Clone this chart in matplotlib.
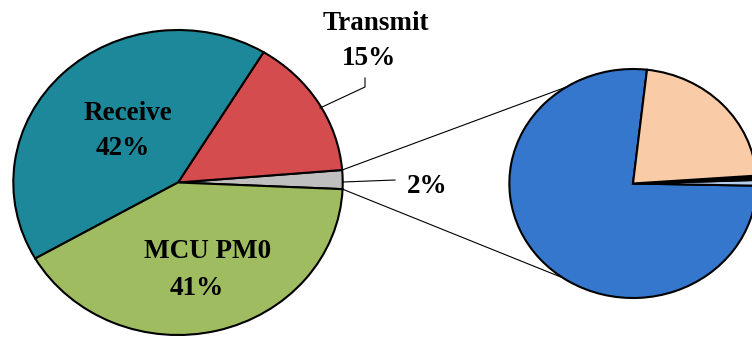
import numpy as np
import matplotlib.pyplot as plt

# main breakdown (percent of total)
main_labels = ["Other", "Transmit", "Receive", "MCU PM0"]
main_values = [2, 15, 42, 41]
main_colors = ["#bfbfbf", "#d44c4d", "#1c8899", "#a0bc60"]

# breakdown of the small "Other" slice
sub_values = [76.5, 0.8, 0.6, 22.1]
sub_colors = ["#3477cc", "#b6cdeb", "#000000", "#f9cba7"]

W, H = 752, 338
sx = 1.08  # horizontal stretch of the whole drawing


def px(x, y):
    return x / sx, H - y


fig = plt.figure(figsize=(W / 100, H / 100), dpi=100)
ax = fig.add_axes([0, 0, 1, 1])

wprops = dict(edgecolor="black", linewidth=1.5)
c1, r1 = px(178, 182.5), 152.5
c2, r2 = px(633, 183.5), 114.5

w1, _ = ax.pie(main_values, colors=main_colors, startangle=-2.5,
               counterclock=True, center=c1, radius=r1, frame=True,
               wedgeprops=wprops)
w2, _ = ax.pie(sub_values, colors=sub_colors, startangle=83.5,
               counterclock=True, center=c2, radius=r2, frame=True,
               wedgeprops=wprops)


def on_circle(c, r, ang):
    a = np.deg2rad(ang)
    return c[0] + r * np.cos(a), c[1] + r * np.sin(a)


# lines joining the small slice to the second pie
g = w1[0]
for a_left, a_right in [(g.theta2, 122.5), (g.theta1, 235.6)]:
    p, q = on_circle(c1, r1, a_left), on_circle(c2, r2, a_right)
    ax.plot([p[0], q[0]], [p[1], q[1]], color="black", lw=0.8, zorder=0)

# leader lines
lead_t = [px(320, 108), px(365, 87), px(365, 78)]
ax.plot(*zip(*lead_t), color="black", lw=0.8)
lead_o = [px(343, 182), px(395, 180)]
ax.plot(*zip(*lead_o), color="black", lw=0.8)

font = dict(family="Liberation Serif", weight="bold", fontsize=19.5,
            ha="center", va="baseline")
texts = [("Transmit", 376, 30), ("15%", 369, 65),
         ("Receive", 128, 120), ("42%", 123, 155),
         ("MCU PM0", 208, 258), ("41%", 197, 295),
         ("2%", 427, 193)]
for t, x, y in texts:
    ax.text(*px(x, y), t, **font)

ax.set_aspect("auto")
ax.set_xlim(0, W / sx)
ax.set_ylim(0, H)
ax.axis("off")

fig.savefig("out.png", dpi=100)
